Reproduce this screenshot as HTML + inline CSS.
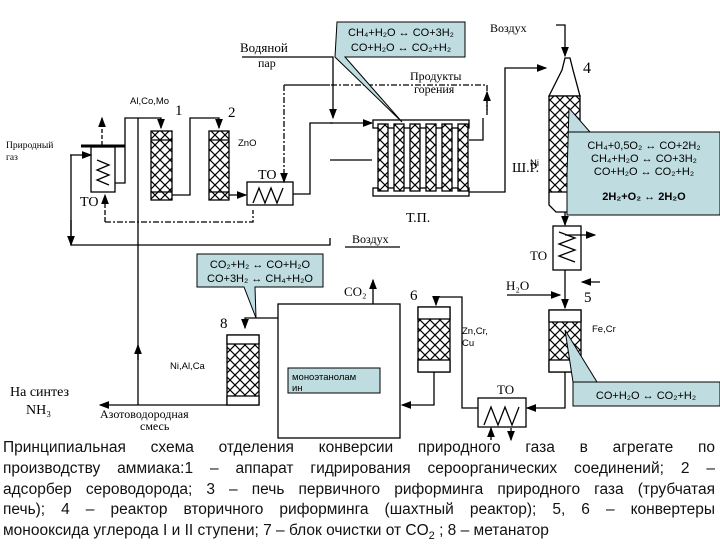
<!DOCTYPE html>
<html><head><meta charset="utf-8"><style>
body{margin:0;background:#fff;width:720px;height:540px;overflow:hidden;position:relative;font-family:"Liberation Sans",sans-serif}
svg{position:absolute;left:0;top:0}
.cap{position:absolute;left:3px;top:438px;width:712px;font-size:15.5px;line-height:20.8px;color:#111}
.cap div{text-align:justify;text-align-last:justify;white-space:nowrap}
.cap div.l{text-align-last:left}
</style></head><body>
<svg width="720" height="540" viewBox="0 0 720 540" font-family="Liberation Sans, sans-serif">
<defs>
<pattern id="x" width="10" height="10" patternUnits="userSpaceOnUse">
<rect width="10" height="10" fill="#fff"/><path d="M0 0L10 10M10 0L0 10" stroke="#000" stroke-width="1.2"/></pattern>
<marker id="a" markerWidth="8" markerHeight="8" refX="7" refY="4" orient="auto"><path d="M0 1L8 4L0 7z" fill="#000"/></marker>
</defs>
<g stroke="#000" stroke-width="1.3" fill="none">
<rect x="91" y="147" width="24" height="45" fill="#fff"/>
<path d="M81 146H125" stroke-width="3"/>
<path d="M97 160l12 5l-12 5l12 5l-12 5l12 5"/>
<path d="M102 145V118" stroke-dasharray="4,2" marker-end="url(#a)"/>
<path d="M70 155H91" marker-end="url(#a)"/>
<path d="M71 155V245H330V238" />
<path d="M71 220V245" marker-end="url(#a)"/>
<path d="M125 146V118H161V128" marker-end="url(#a)"/>
<path d="M115 183H125V146"/>
<path d="M105 222V195" stroke-dasharray="5,2" marker-end="url(#a)"/>
<path d="M105 222H253V210" stroke-dasharray="6,2,2,2"/>
<rect x="151" y="131" width="21" height="69" fill="url(#x)"/>
<path d="M151 140H172M151 192H172"/>
<rect x="209" y="131" width="20" height="69" fill="url(#x)"/>
<path d="M209 140H229M209 192H229"/>
<path d="M172 195H190V118H219V128" marker-end="url(#a)"/>
<path d="M229 195H246" marker-end="url(#a)"/>
<rect x="247" y="182" width="46" height="23" fill="#fff"/>
<path d="M253 203l6-15l6 15l6-15l6 15l6-15"/>
<path d="M293 194H310V123H333" />
<path d="M284 85V182" stroke-dasharray="6,2,2,2" marker-end="url(#a)"/>
<path d="M284 85H330"/>
<path d="M138 118V405" />
<path d="M138 360V345" marker-end="url(#a)"/>
<path d="M242 57H333V118" marker-end="url(#a)"/>
<rect x="373" y="120" width="96" height="8" fill="#fff"/>
<rect x="373" y="188" width="96" height="8" fill="#fff"/>
<rect x="378" y="124" width="10" height="67" fill="url(#x)"/>
<rect x="394" y="124" width="10" height="67" fill="url(#x)"/>
<rect x="410" y="124" width="10" height="67" fill="url(#x)"/>
<rect x="426" y="124" width="10" height="67" fill="url(#x)"/>
<rect x="442" y="124" width="10" height="67" fill="url(#x)"/>
<rect x="458" y="124" width="10" height="67" fill="url(#x)"/>
<path d="M330 123H372" marker-end="url(#a)"/>
<path d="M330 160H372"/>
<path d="M469 140H483V118"/>
<path d="M487 115V85H330" stroke-dasharray="6,2,2,2"/>
<path d="M487 110V92" marker-end="url(#a)"/>
<path d="M469 192H505V68H546" marker-end="url(#a)"/>
<path d="M345 247H400"/>
<path d="M549 96L562 70L565 58L570 58L573 70L580 96Z" fill="#fff"/>
<rect x="549" y="96" width="31" height="96" fill="url(#x)"/>
<path d="M549 192V205L556 212H573L580 205V192"/>
<path d="M556 25H565V56" marker-end="url(#a)"/>
<path d="M565 212V225" marker-end="url(#a)"/>
<rect x="553" y="226" width="28" height="44" fill="#fff"/>
<path d="M559 232l16 6l-16 6l16 6l-16 6l16 6"/>
<path d="M565 235H595" marker-end="url(#a)"/>
<path d="M600 282H582" marker-end="url(#a)"/>
<path d="M565 270V308" marker-end="url(#a)"/>
<path d="M507 295H560" marker-end="url(#a)"/>
<rect x="549" y="310" width="32" height="62" fill="url(#x)"/>
<rect x="549" y="310" width="32" height="12" fill="#fff"/>
<rect x="549" y="360" width="32" height="12" fill="#fff"/>
<path d="M565 372V408H527" marker-end="url(#a)"/>
<rect x="478" y="398" width="48" height="29" fill="#fff"/>
<path d="M484 425l7-18l7 18l7-18l7 18l7-18"/>
<path d="M478 408H462V313" />
<path d="M491 440V428" marker-end="url(#a)"/>
<path d="M511 428V440" marker-end="url(#a)"/>
<rect x="418" y="307" width="32" height="65" fill="url(#x)"/>
<rect x="418" y="307" width="32" height="12" fill="#fff"/>
<rect x="418" y="360" width="32" height="12" fill="#fff"/>
<path d="M462 313V297H436V305" marker-end="url(#a)"/>
<path d="M434 372V405H402" marker-end="url(#a)"/>
<rect x="278" y="304" width="122" height="134" fill="#fff"/>
<path d="M373 304V280" marker-end="url(#a)"/>
<path d="M278 318H245V328" marker-end="url(#a)"/>
<rect x="227" y="335" width="32" height="70" fill="url(#x)"/>
<rect x="227" y="335" width="32" height="9" fill="#fff"/>
<rect x="227" y="396" width="32" height="9" fill="#fff"/>
<path d="M227 405H100" marker-end="url(#a)"/>
</g>
<g fill="#bfdde1" stroke="#000" stroke-width="1">
<path d="M337 22H465V57H345L402 122L335 57Z" />
<path d="M567 132H720V215H567V175L569 108L590 132Z"/>
<path d="M197 254H323V287H255L256 318L244 287H197Z"/>
<path d="M573 382H720V406H573V382L565 330L597 382Z"/>
<rect x="288" y="368" width="92" height="25"/>
</g>
<g font-size="11" text-anchor="middle" fill="#000">
<text x="401" y="36">CH₄+H₂O ↔ CO+3H₂</text>
<text x="401" y="51">CO+H₂O ↔ CO₂+H₂</text>
<text x="644" y="149">CH₄+0,5O₂ ↔ CO+2H₂</text>
<text x="644" y="162">CH₄+H₂O ↔ CO+3H₂</text>
<text x="644" y="175">CO+H₂O ↔ CO₂+H₂</text>
<text x="644" y="200" font-weight="bold">2H₂+O₂ ↔ 2H₂O</text>
<text x="260" y="268">CO₂+H₂ ↔ CO+H₂O</text>
<text x="260" y="282">CO+3H₂ ↔ CH₄+H₂O</text>
<text x="646" y="399">CO+H₂O ↔ CO₂+H₂</text>
</g>
<g font-size="9.5" fill="#000">
<text x="130" y="104">Al,Co,Mo</text>
<text x="238" y="146">ZnO</text>
<text x="530" y="166">Ni</text>
<text x="592" y="332">Fe,Cr</text>
<text x="462" y="334">Zn,Cr,</text><text x="462" y="346">Cu</text>
<text x="170" y="369">Ni,Al,Ca</text>
<text x="292" y="380">моноэтанолам</text><text x="292" y="391">ин</text>
<text x="6" y="148" font-family="Liberation Serif, serif">Природный</text>
<text x="6" y="160" font-family="Liberation Serif, serif">газ</text>
</g>
<g font-family="Liberation Serif, serif" fill="#000" font-size="13">
<text x="240" y="52">Водяной</text><text x="258" y="67" font-size="12">пар</text>
<text x="490" y="32" font-size="12">Воздух</text>
<text x="410" y="80" font-size="12">Продукты</text><text x="414" y="93" font-size="12">горения</text>
<text x="512" y="172" font-size="14">Ш.Р.</text>
<text x="406" y="222" font-size="14">Т.П.</text>
<text x="352" y="243" font-size="12">Воздух</text>
<text x="80" y="206" font-size="14">ТО</text>
<text x="258" y="179" font-size="14">ТО</text>
<text x="530" y="260" font-size="13">ТО</text>
<text x="497" y="394" font-size="13">ТО</text>
<text x="506" y="290" font-size="13">H₂O</text>
<text x="344" y="296" font-size="13">CO₂</text>
<text x="175" y="115" font-size="15">1</text>
<text x="228" y="117" font-size="15">2</text>
<text x="583" y="73" font-size="16">4</text>
<text x="584" y="302" font-size="15">5</text>
<text x="410" y="300" font-size="15">6</text>
<text x="220" y="328" font-size="15">8</text>
<text x="10" y="396" font-size="14">На синтез</text>
<text x="26" y="414" font-size="14">NH₃</text>
<text x="100" y="418" font-size="12">Азотоводородная</text>
<text x="140" y="430" font-size="12">смесь</text>
</g>
</svg>
<div class="cap">
<div>Принципиальная схема отделения конверсии природного газа в агрегате по</div>
<div>производству аммиака:1 – аппарат гидрирования сероорганических соединений; 2 –</div>
<div>адсорбер сероводорода; 3 – печь первичного риформинга природного газа (трубчатая</div>
<div>печь); 4 – реактор вторичного риформинга (шахтный реактор); 5, 6 – конвертеры</div>
<div class="l">монооксида углерода I и II ступени; 7 – блок очистки от CO<sub style="font-size:11px">2</sub> ; 8 – метанатор</div>
</div>
</body></html>
